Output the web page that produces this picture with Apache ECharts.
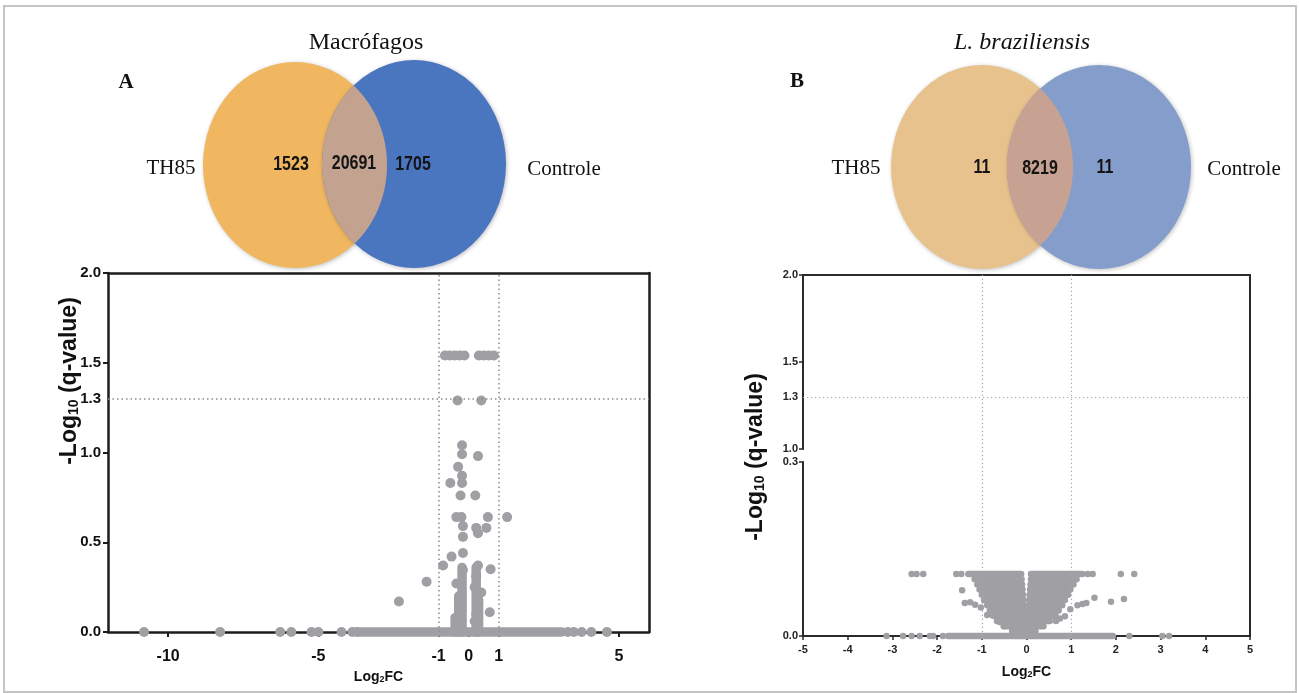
<!DOCTYPE html>
<html><head><meta charset="utf-8">
<script src="https://cdn.jsdelivr.net/npm/echarts@6/dist/echarts.min.js"></script>
<style>html,body{margin:0;padding:0;background:#fff}#c{width:1299px;height:693px}</style>
</head><body><div id="c"></div>
<script>
// ================= DATA =================
const vennSets = ['TH85', 'Controle'];
const vennTitleA = 'Macrófagos';
const vennTitleB = 'L. braziliensis';
const vennCountsA = [1523, 20691, 1705];   // TH85 only, both, Controle only
const vennCountsB = [11, 8219, 11];

const xLabelsA = [-10, -5, -1, 0, 1, 5];
const yLabelsA = [0, 0.5, 1.0, 1.3, 1.5, 2.0];
const yTicksA = [0, 0.5, 1.0, 1.5, 2.0];
const yLabelsBHigh = [1.0, 1.3, 1.5, 2.0];
const yTicksBHigh = [1.0, 1.5, 2.0];
const yLabelsBLow = [0, 0.3];

const cutFC = [-1, 1];
const cutQ = 1.3;

// Panel A points [log2FC, -log10(q)]
const pointsA = [
  [-10.8,0],[-8.27,0],[-6.27,0],[-5.9,0],[-5.23,0],[-5.0,0],[-4.23,0],[-3.87,0],[-3.72,0],
  [3.3,0],[3.5,0],[3.76,0],[4.08,0],[4.6,0],
  [-0.79,1.54],[-0.63,1.54],[-0.46,1.54],[-0.3,1.54],[-0.14,1.54],
  [0.34,1.54],[0.5,1.54],[0.67,1.54],[0.84,1.54],
  [-0.37,1.29],[0.42,1.29],
  [-0.22,1.04],[-0.22,0.99],[-0.35,0.92],[-0.22,0.87],[-0.22,0.83],[-0.61,0.83],[0.31,0.98],
  [-0.27,0.76],[0.22,0.76],
  [-0.41,0.64],[-0.24,0.64],[-0.19,0.59],[-0.19,0.53],[0.25,0.58],[0.31,0.55],[0.59,0.58],[0.64,0.64],[1.28,0.64],
  [-0.19,0.44],[-0.57,0.42],[-0.85,0.37],[-1.40,0.28],[-2.32,0.17],
  [-0.19,0.345],[-0.41,0.27],[-0.24,0.2],[-0.24,0.14],[-0.3,0.085],
  [0.31,0.37],[0.25,0.31],[0.2,0.25],[0.42,0.22],[0.31,0.17],[0.7,0.11],[0.73,0.35],[0.25,0.10],[0.2,0.06]
];
// Panel A: dense runs of overlapping points [x0, y0, x1, y1]
const runsA = [
  [-3.65,0,3.1,0],
  [-0.22,0,-0.22,0.36],
  [-0.33,0,-0.33,0.2],
  [-0.45,0,-0.45,0.08],
  [0.25,0,0.25,0.36],
  [0.33,0,0.33,0.18]
];

// Panel B points
const pointsB = [
  [-2.57,0.107],[-2.46,0.107],[-2.31,0.107],[-1.57,0.107],[-1.46,0.107],
  [1.25,0.107],[1.37,0.107],[1.48,0.107],[2.11,0.107],[2.41,0.107],
  [-1.44,0.079],[-1.38,0.057],[-1.26,0.058],[-1.15,0.054],[-1.02,0.049],[-0.88,0.036],[-0.6,0.024],[-0.51,0.017],
  [0.94,0.079],[0.86,0.034],[0.66,0.026],[0.75,0.03],[0.98,0.046],[1.14,0.053],[1.25,0.055],[1.34,0.057],
  [1.52,0.066],[1.89,0.059],[2.18,0.064],
  [-3.13,0],[-2.76,0],[-2.57,0],[-2.39,0],[-2.16,0],[-2.09,0],[-1.87,0],[2.3,0],[3.04,0],[3.19,0]
];
// Panel B: dense runs of overlapping points [x0, y0, x1, y1]
const runsB = [
  [-1.3,0.107,-0.12,0.107],[0.10,0.107,1.2,0.107],
  [-1.16,0.098,-0.11,0.098],[0.10,0.098,1.12,0.098],
  [-1.10,0.089,-0.10,0.089],[0.09,0.089,1.05,0.089],
  [-1.05,0.080,-0.09,0.080],[0.08,0.080,0.98,0.080],
  [-1.00,0.071,-0.08,0.071],[0.07,0.071,0.93,0.071],
  [-0.95,0.062,-0.07,0.062],[0.06,0.062,0.86,0.062],
  [-0.88,0.053,-0.06,0.053],[0.05,0.053,0.80,0.053],
  [-0.82,0.044,-0.05,0.044],[0.05,0.044,0.72,0.044],
  [-0.75,0.035,-0.04,0.035],[0.04,0.035,0.65,0.035],
  [-0.66,0.026,-0.03,0.026],[0.03,0.026,0.52,0.026],
  [-0.50,0.017,-0.02,0.017],[0.02,0.017,0.38,0.017],
  [-0.32,0.008,0.20,0.008],
  [-1.75,0,1.93,0]
];

// ================= RENDER =================
const SANS = '"Liberation Sans", Arial, sans-serif';
const SERIF = '"Liberation Serif", "Times New Roman", serif';

const DOT = '#a0a0a4';
const AX = '#1c1c1c';

function runRender(size, color){
  return function(params, api){
    const a = api.coord([api.value(0), api.value(1)]);
    const b = api.coord([api.value(2), api.value(3)]);
    return {type:'line', shape:{x1:a[0],y1:a[1],x2:b[0],y2:b[1]},
      style:{stroke:color, lineWidth:size, lineCap:'round'}};
  };
}
function lens(e1, e2){
  const pts=[]; const N=720;
  const inside=(e,x,y)=>((x-e.cx)/e.rx)**2+((y-e.cy)/e.ry)**2<=1;
  [[e1,e2],[e2,e1]].forEach(([a,b])=>{
    for(let i=0;i<N;i++){const t=i/N*2*Math.PI;const x=a.cx+a.rx*Math.cos(t), y=a.cy+a.ry*Math.sin(t);
      if(inside(b,x,y)) pts.push([x,y]);}
  });
  const mx=pts.reduce((s,p)=>s+p[0],0)/pts.length, my=pts.reduce((s,p)=>s+p[1],0)/pts.length;
  pts.sort((p,q)=>Math.atan2(p[1]-my,p[0]-mx)-Math.atan2(q[1]-my,q[0]-mx));
  return pts;
}
function ell(e, fill){
  return {type:'circle', x:e.cx, y:e.cy, scaleY:e.ry/e.rx, shape:{cx:0,cy:0,r:e.rx},
    style:{fill:fill, shadowBlur:4, shadowColor:'rgba(0,0,0,0.25)', shadowOffsetX:1, shadowOffsetY:1}, z:1};
}
function txt(x,y,text,style,extra){
  return Object.assign({type:'text', x:x, y:y, z:5, style:Object.assign({text:text, fill:'#111', align:'center', verticalAlign:'middle'}, style)}, extra||{});
}
function venn(L, R, colors, counts, sets, title, titleItalic, letter, lx, labX, labelPos){
  const out=[ell(L,colors[0]), ell(R,colors[1]), {type:'polygon', shape:{points:lens(L,R)}, style:{fill:colors[2]}, z:2}];
  const numStyle={fontFamily:SANS, fontWeight:'bold', fontSize:21, fill:'#141414'};
  for(let i=0;i<3;i++) out.push(txt(labelPos[i][0],labelPos[i][1],String(counts[i]),numStyle,{scaleX:0.76}));
  const serif={fontFamily:SERIF, fontSize:21, fill:'#111'};
  out.push(txt(labX[0],168,sets[0],serif));
  out.push(txt(labX[1],169,sets[1],serif));
  out.push(txt(title[1],43,title[0],{fontFamily:SERIF, fontSize:24, fontStyle:titleItalic?'italic':'normal'}));
  out.push(txt(lx[0],lx[1],letter,{fontFamily:SERIF, fontSize:21, fontWeight:'bold'}));
  return out;
}
const LA={cx:295,cy:165,rx:92,ry:103}, RA={cx:414,cy:164,rx:92,ry:104};
const LB={cx:982,cy:167,rx:91,ry:102}, RB={cx:1099,cy:167,rx:92,ry:102};

const yTitle = (x,y)=>txt(x,y,'-Log{s|10} (q-value)',
  {fontFamily:SANS, fontWeight:'bold', fontSize:23,
   rich:{s:{fontFamily:SANS, fontWeight:'bold', fontSize:14, verticalAlign:'bottom', padding:[9,0,0,0]}}},
  {rotation:Math.PI/2});

const graphics = [
  {type:'rect', shape:{x:4,y:6,width:1292,height:686}, style:{fill:'none', stroke:'#c4c4c4', lineWidth:2}, z:0}
].concat(
  venn(LA,RA,['#f0b660','#4a76c0','#c3a290'],vennCountsA,vennSets,[vennTitleA,366],false,'A',[126,83],[171,564],
       [[291,164],[354,163],[413,164]]),
  venn(LB,RB,['#e8c28d','#859dca','#c7a292'],vennCountsB,vennSets,[vennTitleB,1022],true,'B',[797,82],[856,1244],
       [[982,167],[1040,168],[1105,167]]),
  [ yTitle(70,381), yTitle(756,457) ]
);

const lineOnly = (color,w)=>({axisLine:{show:true,onZero:false,lineStyle:{color:color,width:w}}, axisTick:{show:false}, axisLabel:{show:false}, splitLine:{show:false}});
const dotted = {type:[1.5,3], color:'#8c8c8c', width:1.5};
const dottedB = {type:[1.2,2.8], color:'#a8a8a8', width:1.2};
const mk = (data, ls)=>({symbol:['none','none'], silent:true, label:{show:false}, lineStyle:ls, emphasis:{disabled:true}, data:data, animation:false});
const subName = (fs)=>({rich:{a:{fontFamily:SANS,fontWeight:'bold',fontSize:fs,color:'#111'},
  s:{fontFamily:SANS,fontWeight:'bold',fontSize:Math.round(fs*0.62),color:'#111',verticalAlign:'bottom',padding:[5,0,0,0]}}});

const option = {
  animation:false,
  graphic: graphics,
  grid:[
    {left:108, top:273, width:541, height:359},
    {left:803, top:275, width:447, height:174},
    {left:803, top:462, width:447, height:174},
    {left:803, top:275, width:447, height:361}
  ],
  xAxis:[
    {gridIndex:0, type:'value', min:-12, max:6, position:'bottom',
     axisLine:{onZero:false, lineStyle:{color:AX,width:2.5}},
     axisTick:{show:true, length:5, customValues:xLabelsA, lineStyle:{color:AX,width:2}},
     axisLabel:{customValues:xLabelsA, margin:17, color:'#111', fontFamily:SANS, fontWeight:'bold', fontSize:16},
     splitLine:{show:false},
     name:'{a|Log}{s|2}{a|FC}', nameLocation:'middle', nameGap:33, nameTextStyle:subName(14)},
    Object.assign({gridIndex:0, type:'value', min:-12, max:6, position:'top'}, lineOnly(AX,2.5)),
    {gridIndex:1, type:'value', min:-5, max:5, show:false},
    {gridIndex:2, type:'value', min:-5, max:5, interval:1, position:'bottom',
     axisLine:{onZero:false, lineStyle:{color:'#2a2a2a',width:2}},
     axisTick:{show:true, length:4, lineStyle:{color:'#2a2a2a',width:1.5}},
     axisLabel:{margin:8, color:'#222', fontFamily:SANS, fontWeight:'bold', fontSize:11},
     splitLine:{show:false},
     name:'{a|Log}{s|2}{a|FC}', nameLocation:'middle', nameGap:29, nameTextStyle:subName(14)},
    Object.assign({gridIndex:3, type:'value', min:-5, max:5, position:'top'}, lineOnly('#2a2a2a',2))
  ],
  yAxis:[
    {gridIndex:0, type:'value', min:0, max:2, position:'left',
     axisLine:{show:true, onZero:false, lineStyle:{color:AX,width:2.5}},
     axisTick:{show:true, length:5, customValues:yTicksA, lineStyle:{color:AX,width:2}},
     axisLabel:{customValues:yLabelsA, formatter:v=>v.toFixed(1), margin:7, color:'#111', fontFamily:SANS, fontWeight:'bold', fontSize:15},
     splitLine:{show:false}},
    Object.assign({gridIndex:0, type:'value', min:0, max:2, position:'right'}, lineOnly(AX,2.5)),
    {gridIndex:1, type:'value', min:1, max:2, position:'left',
     axisLine:{show:true, onZero:false, lineStyle:{color:'#2a2a2a',width:2}},
     axisTick:{show:true, length:4, customValues:yTicksBHigh, lineStyle:{color:'#2a2a2a',width:1.5}},
     axisLabel:{customValues:yLabelsBHigh, formatter:v=>v.toFixed(1), margin:5, color:'#222', fontFamily:SANS, fontWeight:'bold', fontSize:11},
     splitLine:{show:false}},
    {gridIndex:2, type:'value', min:0, max:0.3, position:'left',
     axisLine:{show:true, onZero:false, lineStyle:{color:'#2a2a2a',width:2}},
     axisTick:{show:true, length:4, customValues:yLabelsBLow, lineStyle:{color:'#2a2a2a',width:1.5}},
     axisLabel:{customValues:yLabelsBLow, formatter:v=>v.toFixed(1), margin:5, color:'#222', fontFamily:SANS, fontWeight:'bold', fontSize:11},
     splitLine:{show:false}},
    Object.assign({gridIndex:3, type:'value', min:0, max:1, position:'right'}, lineOnly('#2a2a2a',2))
  ],
  series:[
    {type:'scatter', xAxisIndex:0, yAxisIndex:0, data:[], z:1, silent:true,
     markLine:mk([{xAxis:cutFC[0]},{xAxis:cutFC[1]},{yAxis:cutQ}], dotted)},
    {type:'custom', xAxisIndex:0, yAxisIndex:0, data:runsA, encode:{x:[0,2], y:[1,3]}, renderItem:runRender(9.5,DOT), clip:false, silent:true, z:3},
    {type:'scatter', xAxisIndex:0, yAxisIndex:0, data:pointsA, symbolSize:10, itemStyle:{color:DOT, opacity:1}, clip:false, silent:true, z:3},

    {type:'scatter', xAxisIndex:4, yAxisIndex:4, data:[], z:1, silent:true,
     markLine:mk([{xAxis:cutFC[0]},{xAxis:cutFC[1]}], dottedB)},
    {type:'scatter', xAxisIndex:2, yAxisIndex:2, data:[], z:1, silent:true,
     markLine:mk([{yAxis:cutQ}], dottedB)},
    {type:'custom', xAxisIndex:3, yAxisIndex:3, data:runsB, encode:{x:[0,2], y:[1,3]}, renderItem:runRender(6.5,DOT), clip:false, silent:true, z:3},
    {type:'scatter', xAxisIndex:3, yAxisIndex:3, data:pointsB, symbolSize:6.5, itemStyle:{color:DOT, opacity:1}, clip:false, silent:true, z:3}
  ]
};
const chart = echarts.init(document.getElementById('c'), null, {renderer:'canvas'});
chart.setOption(option);
</script></body></html>
